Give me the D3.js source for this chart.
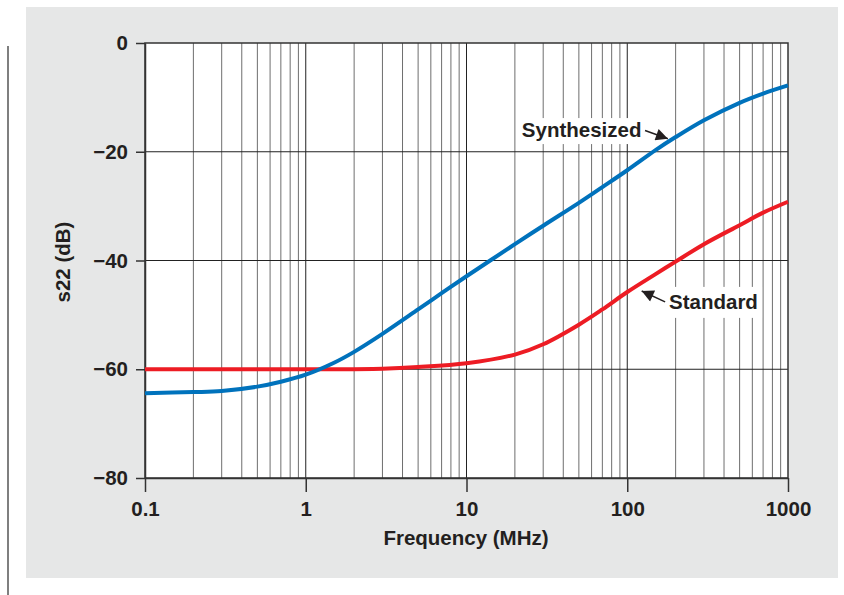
<!DOCTYPE html>
<html>
<head>
<meta charset="utf-8">
<script src="https://cdn.jsdelivr.net/npm/d3@7"></script>
<style>
  body { margin: 0; background: #fff; }
  svg { display: block; font-family: "Liberation Sans", Arial, sans-serif; font-weight: bold; }
</style>
</head>
<body>
<svg id="chart" width="844" height="595"></svg>
<script>
// frequency in MHz, s22 in dB
const synthFreq = [0.1, 0.2, 0.3, 0.5, 0.7, 1, 1.5, 2, 3, 5, 7, 10, 20, 30, 50, 70, 100, 150, 200, 300, 500, 700, 1000]
const synthDb = [-64.4, -64.2, -64.0, -63.2, -62.3, -61.0, -58.8, -56.8, -53.5, -49.0, -46.0, -42.9, -37.0, -33.6, -29.4, -26.5, -23.4, -19.7, -17.3, -14.2, -11.0, -9.3, -7.8]

const stdFreq = [0.1, 1, 3, 5, 10, 20, 30, 50, 70, 100, 150, 200, 300, 500, 700, 1000]
const stdDb = [-60, -60, -59.9, -59.6, -58.9, -57.3, -55.4, -51.8, -49.0, -45.8, -42.5, -40.2, -37.0, -33.5, -31.2, -29.2]

const xTicks = [0.1, 1, 10, 100, 1000]
const yTicks = [0, -20, -40, -60, -80]

// annotations: label start, arrow tail, arrow tip (freq, dB)
const labels = [
  { text: "Synthesized", at: [22.1, -17.3], tail: [129, -16.1], tip: [179, -17.6] },
  { text: "Standard", at: [182, -48.9], tail: [172, -47.6], tip: [123, -45.6] }
]

var svg = d3.select("#chart")

var margin = { left: 145, right: 788, top: 43, bottom: 478 }
var fontSize = "20.5px"
var ink = "#231f20"

var x = d3.scaleLog()
    .domain([0.1, 1000])
    .range([margin.left, margin.right])

var y = d3.scaleLinear()
    .domain([-80, 0])
    .range([margin.bottom, margin.top])

// grey panel and the rule on the left
svg.append("rect")
    .attr("x", 26).attr("y", 7)
    .attr("width", 812).attr("height", 571)
    .attr("fill", "#e6e7e7")

svg.append("line")
    .attr("x1", 8).attr("x2", 8)
    .attr("y1", 46).attr("y2", 595)
    .attr("stroke", "#555").attr("stroke-width", 1.5)

svg.append("rect")
    .attr("x", margin.left).attr("y", margin.top)
    .attr("width", margin.right - margin.left)
    .attr("height", margin.bottom - margin.top)
    .attr("fill", "#fff")

// vertical grid: decades dark, the rest grey
var minor = []
for (let dec = 0.1; dec < 1000; dec *= 10) {
  for (let m = 2; m <= 9; m++) minor.push(+(dec * m).toPrecision(3))
}
var grid = svg.append("g")

grid.selectAll("line.minor")
    .data(minor)
    .enter().append("line")
    .attr("class", "minor")
    .attr("x1", d => x(d)).attr("x2", d => x(d))
    .attr("y1", margin.top).attr("y2", margin.bottom)
    .attr("stroke", "#6e6e6e").attr("stroke-width", 1)

grid.selectAll("line.major")
    .data([1, 10, 100])
    .enter().append("line")
    .attr("class", "major")
    .attr("x1", d => x(d)).attr("x2", d => x(d))
    .attr("y1", margin.top).attr("y2", margin.bottom)
    .attr("stroke", "#222").attr("stroke-width", 1)

grid.selectAll("line.h")
    .data([-20, -40, -60])
    .enter().append("line")
    .attr("class", "h")
    .attr("x1", margin.left).attr("x2", margin.right)
    .attr("y1", d => y(d)).attr("y2", d => y(d))
    .attr("stroke", "#222").attr("stroke-width", 1)

// white boxes behind the labels
var boxes = svg.append("g")
boxes.append("rect")
    .attr("x", x(labels[0].at[0]) - 4).attr("y", y(labels[0].at[1]) - 19)
    .attr("width", 128).attr("height", 26)
    .attr("fill", "#fff")
boxes.append("rect")
    .attr("x", x(labels[1].at[0]) - 5).attr("y", y(labels[1].at[1]) - 22)
    .attr("width", 98).attr("height", 31)
    .attr("fill", "#fff")

// frame
svg.append("rect")
    .attr("x", margin.left).attr("y", margin.top)
    .attr("width", margin.right - margin.left)
    .attr("height", margin.bottom - margin.top)
    .attr("fill", "none")
    .attr("stroke", "#333").attr("stroke-width", 1.5)

// axes
var fmtY = d => d < 0 ? "\u2212" + Math.abs(d) : String(d)

svg.append("g")
    .attr("transform", "translate(" + margin.left + ",0)")
    .call(d3.axisLeft(y).tickValues(yTicks).tickFormat(fmtY).tickSize(9).tickSizeOuter(0).tickPadding(8))

svg.append("g")
    .attr("transform", "translate(0," + margin.bottom + ")")
    .call(d3.axisBottom(x).tickValues(xTicks).tickFormat(d => String(d)).tickSize(14).tickSizeOuter(0).tickPadding(9))

svg.selectAll(".domain").attr("stroke", "#333").attr("stroke-width", 1.5)
svg.selectAll(".tick line").attr("stroke", "#333").attr("stroke-width", 1.5)
svg.selectAll(".tick text")
    .attr("fill", ink)
    .style("font-family", "'Liberation Sans', Arial, sans-serif")
    .style("font-weight", "bold")
    .style("font-size", fontSize)

svg.append("text")
    .attr("x", 466)
    .attr("y", 545)
    .attr("text-anchor", "middle")
    .attr("fill", ink)
    .style("font-size", fontSize)
    .text("Frequency (MHz)")

svg.append("text")
    .attr("transform", "translate(70,262) rotate(-90)")
    .attr("text-anchor", "middle")
    .attr("fill", ink)
    .style("font-size", fontSize)
    .text("s22 (dB)")

// curves
var line = d3.line()
    .x(d => x(d[0]))
    .y(d => y(d[1]))
    .curve(d3.curveCatmullRom.alpha(0.5))

svg.append("path")
    .datum(stdFreq.map((f, i) => [f, stdDb[i]]))
    .attr("d", line)
    .attr("fill", "none")
    .attr("stroke", "#ed1c24")
    .attr("stroke-width", 4)

svg.append("path")
    .datum(synthFreq.map((f, i) => [f, synthDb[i]]))
    .attr("d", line)
    .attr("fill", "none")
    .attr("stroke", "#0072bc")
    .attr("stroke-width", 4)

// labels with arrows
svg.append("defs").append("marker")
    .attr("id", "head")
    .attr("viewBox", "0 0 10 10")
    .attr("refX", 10).attr("refY", 5)
    .attr("markerWidth", 14).attr("markerHeight", 12)
    .attr("markerUnits", "userSpaceOnUse")
    .attr("orient", "auto")
  .append("path")
    .attr("d", "M0,0 L10,5 L0,10 Z")
    .attr("fill", ink)

labels.forEach(l => {
  svg.append("text")
      .attr("x", x(l.at[0]))
      .attr("y", y(l.at[1]))
      .attr("fill", ink)
      .style("font-size", fontSize)
      .text(l.text)
  svg.append("line")
      .attr("x1", x(l.tail[0])).attr("y1", y(l.tail[1]))
      .attr("x2", x(l.tip[0])).attr("y2", y(l.tip[1]))
      .attr("stroke", ink).attr("stroke-width", 1.5)
      .attr("marker-end", "url(#head)")
})
</script>
</body>
</html>
